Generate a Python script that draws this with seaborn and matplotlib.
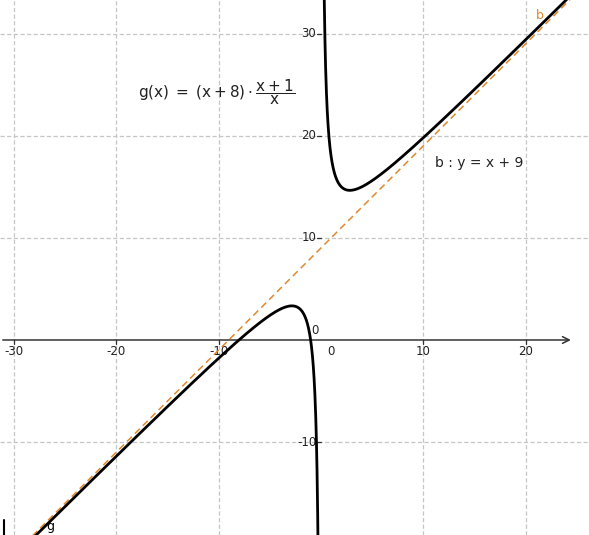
import numpy as np
import seaborn as sns
from matplotlib import pyplot as plt

# g(x) = (x + 8) * (x + 1) / x  and its oblique asymptote b: y = x + 9
root_a = 8
root_b = 1
asym_slope = 1
asym_intercept = 9

x_ticks = [-30, -20, -10, 10, 20]
y_ticks = [-10, 10, 20, 30]
x_limits = [-31.35, 26.2]
y_limits = [-19.1, 33.3]

x_left = np.linspace(-32, -0.005, 2000)
x_right = np.linspace(0.005, 27, 2000)


def g(x):
    return (x + root_a) * (x + root_b) / x


sns.set_theme(style="white")
plt.rcParams['font.family'] = ['DejaVu Sans']
plt.rcParams['mathtext.fontset'] = 'custom'
plt.rcParams['mathtext.rm'] = 'DejaVu Sans'

fig = plt.figure(figsize=(5.89, 5.35), dpi=100)
ax = fig.add_axes([0, 0, 1, 1])
ax.set_xlim(x_limits)
ax.set_ylim(y_limits)
for s in ax.spines.values():
    s.set_visible(False)
ax.set_xticks([])
ax.set_yticks([])

grid_kw = dict(color='#c6c6c6', lw=0.9, ls=(0, (3.4, 1.9)), zorder=0)
for xv in x_ticks:
    ax.axvline(xv, **grid_kw)
for yv in y_ticks:
    ax.axhline(yv, **grid_kw)

# axes with arrow heads
ax.annotate('', xy=(24.7, 0), xytext=(x_limits[0], 0),
            arrowprops=dict(arrowstyle='->', color='#333333', lw=1.1), zorder=2)
ax.annotate('', xy=(0, y_limits[1] + 0.2), xytext=(0, y_limits[0]),
            arrowprops=dict(arrowstyle='->', color='#333333', lw=1.1), zorder=2)

for xv in x_ticks:
    ax.plot([xv, xv], [0, -0.35], color='#333333', lw=0.9)
    ax.text(xv, -0.5, str(xv), ha='center', va='top', fontsize=8.5, color='#222222')
for yv in y_ticks:
    ax.plot([0, -0.35], [yv, yv], color='#333333', lw=0.9)
    ax.text(-0.45, yv, str(yv), ha='right', va='center', fontsize=8.5, color='#222222')
ax.text(0.6, -0.5, '0', ha='left', va='top', fontsize=8.5, color='#222222')
ax.text(-0.95, 0.25, '0', ha='left', va='bottom', fontsize=8.5, color='#222222')

# asymptote
x_line = np.array([x_limits[0], x_limits[1]])
sns.lineplot(x=x_line, y=asym_slope * x_line + asym_intercept, ax=ax,
             color='#e0892c', lw=1.1, zorder=3).lines[-1].set_linestyle((0, (4.5, 2.8)))

# function branches
sns.lineplot(x=x_left, y=g(x_left), ax=ax, color='black', lw=2,
             sort=False, estimator=None, zorder=4)
sns.lineplot(x=x_right, y=g(x_right), ax=ax, color='black', lw=2,
             sort=False, estimator=None, zorder=4)

ax.text(-17.85, 24.3, r'$\mathrm{g(x)\;=\;(x+8)\cdot\dfrac{x+1}{x}}$',
        fontsize=11, ha='left', va='center', color='#222222')
ax.text(11.2, 17.35, 'b : y = x + 9', fontsize=10, ha='left', va='center', color='#222222')
ax.text(21.4, 31.8, 'b', fontsize=9, ha='center', va='center', color='#e0892c')
ax.text(-26.4, -18.3, 'g', fontsize=9, ha='center', va='center', color='black')
ax.plot([0.006, 0.006], [0, 0.028], color='black', lw=1.5, transform=ax.transAxes)

fig.savefig('out.png', dpi=100)
